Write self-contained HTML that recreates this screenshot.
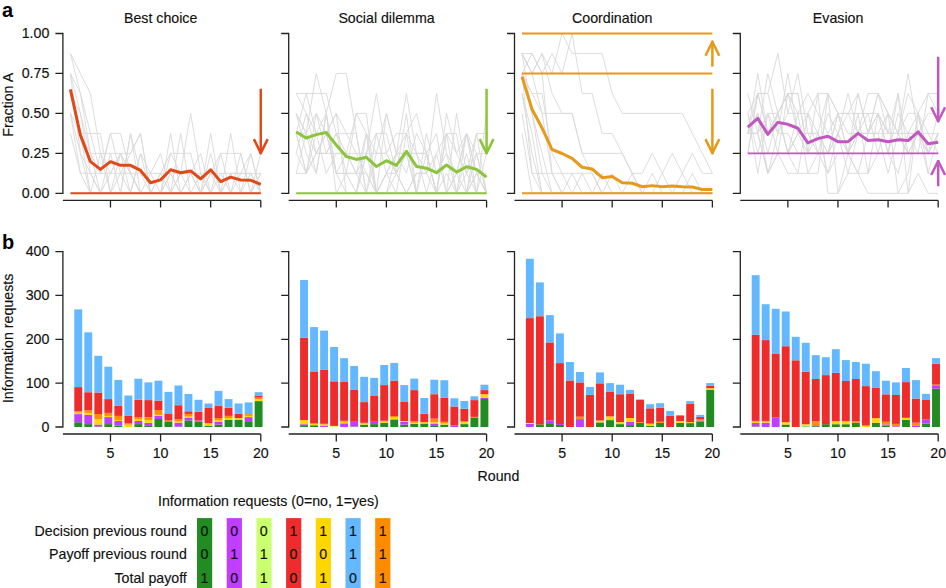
<!DOCTYPE html>
<html><head><meta charset="utf-8"><style>
html,body{margin:0;padding:0;background:#fff;width:946px;height:588px;overflow:hidden}
svg{display:block}
.t{font-family:"Liberation Sans",sans-serif;font-size:14.2px;fill:#111;stroke:#111;stroke-width:0.15px}
.lab{font-family:"Liberation Sans",sans-serif;font-size:20px;font-weight:bold;fill:#000}
.ax{fill:none;stroke:#222;stroke-width:1.3}
.g{fill:none;stroke:#d9d9d9;stroke-width:0.9}
</style></head><body>
<svg width="946" height="588" viewBox="0 0 946 588">
<text x="160.7" y="22.5" text-anchor="middle" class="t">Best choice</text>
<polyline points="70.4,53.47 80.42,73.45 90.44,93.43 100.46,153.35 110.48,173.33 120.5,153.35 130.52,173.33 140.54,193.3 150.56,173.33 160.58,153.35 170.6,193.3 180.62,173.33 190.64,113.4 200.66,173.33 210.68,193.3 220.7,173.33 230.72,193.3 240.74,173.33 250.76,173.33 260.78,193.3" class="g"/>
<polyline points="70.4,73.45 80.42,113.4 90.44,153.35 100.46,173.33 110.48,173.33 120.5,173.33 130.52,173.33 140.54,173.33 150.56,173.33 160.58,173.33 170.6,173.33 180.62,173.33 190.64,173.33 200.66,173.33 210.68,173.33 220.7,173.33 230.72,173.33 240.74,173.33 250.76,173.33 260.78,173.33" class="g"/>
<polyline points="70.4,93.43 80.42,133.38 90.44,153.35 100.46,153.35 110.48,153.35 120.5,153.35 130.52,173.33 140.54,193.3 150.56,193.3 160.58,193.3 170.6,153.35 180.62,153.35 190.64,153.35 200.66,193.3 210.68,173.33 220.7,153.35 230.72,153.35 240.74,153.35 250.76,193.3 260.78,173.33" class="g"/>
<polyline points="70.4,73.45 80.42,93.43 90.44,133.38 100.46,173.33 110.48,133.38 120.5,133.38 130.52,173.33 140.54,193.3 150.56,193.3 160.58,193.3 170.6,133.38 180.62,193.3 190.64,193.3 200.66,193.3 210.68,133.38 220.7,193.3 230.72,193.3 240.74,193.3 250.76,193.3 260.78,193.3" class="g"/>
<polyline points="70.4,113.4 80.42,133.38 90.44,133.38 100.46,133.38 110.48,193.3 120.5,193.3 130.52,133.38 140.54,193.3 150.56,193.3 160.58,193.3 170.6,193.3 180.62,133.38 190.64,193.3 200.66,193.3 210.68,193.3 220.7,193.3 230.72,133.38 240.74,193.3 250.76,193.3 260.78,173.33" class="g"/>
<polyline points="70.4,113.4 80.42,153.35 90.44,193.3 100.46,153.35 110.48,193.3 120.5,153.35 130.52,193.3 140.54,153.35 150.56,193.3 160.58,193.3 170.6,173.33 180.62,193.3 190.64,173.33 200.66,153.35 210.68,193.3 220.7,153.35 230.72,193.3 240.74,153.35 250.76,193.3 260.78,153.35" class="g"/>
<polyline points="70.4,133.38 80.42,173.33 90.44,173.33 100.46,193.3 110.48,153.35 120.5,193.3 130.52,133.38 140.54,173.33 150.56,193.3 160.58,173.33 170.6,193.3 180.62,173.33 190.64,193.3 200.66,193.3 210.68,153.35 220.7,193.3 230.72,173.33 240.74,193.3 250.76,153.35 260.78,193.3" class="g"/>
<polyline points="70.4,93.43 80.42,113.4 90.44,173.33 100.46,193.3 110.48,193.3 120.5,173.33 130.52,193.3 140.54,153.35 150.56,173.33 160.58,193.3 170.6,173.33 180.62,193.3 190.64,193.3 200.66,173.33 210.68,193.3 220.7,193.3 230.72,193.3 240.74,193.3 250.76,173.33 260.78,193.3" class="g"/>
<polyline points="70.4,73.45 80.42,153.35 90.44,173.33 100.46,173.33 110.48,133.38 120.5,173.33 130.52,153.35 140.54,133.38 150.56,193.3 160.58,173.33 170.6,153.35 180.62,173.33 190.64,173.33 200.66,193.3 210.68,173.33 220.7,193.3 230.72,173.33 240.74,173.33 250.76,153.35 260.78,193.3" class="g"/>
<polyline points="70.4,113.4 80.42,173.33 90.44,193.3 100.46,193.3 110.48,193.3 120.5,193.3 130.52,193.3 140.54,193.3 150.56,193.3 160.58,193.3 170.6,193.3 180.62,193.3 190.64,193.3 200.66,193.3 210.68,193.3 220.7,193.3 230.72,193.3 240.74,193.3 250.76,193.3 260.78,193.3" class="g"/>
<polyline points="70.4,53.47 80.42,93.43 90.44,153.35 100.46,193.3 110.48,173.33 120.5,153.35 130.52,153.35 140.54,133.38 150.56,193.3 160.58,193.3 170.6,193.3 180.62,193.3 190.64,173.33 200.66,193.3 210.68,193.3 220.7,193.3 230.72,193.3 240.74,193.3 250.76,193.3 260.78,193.3" class="g"/>
<polyline points="70.4,93.43 80.42,133.38 90.44,193.3 100.46,193.3 110.48,193.3 120.5,193.3 130.52,193.3 140.54,193.3 150.56,193.3 160.58,193.3 170.6,193.3 180.62,193.3 190.64,193.3 200.66,193.3 210.68,193.3 220.7,193.3 230.72,193.3 240.74,193.3 250.76,193.3 260.78,193.3" class="g"/>
<line x1="70.4" y1="193.3" x2="260.78" y2="193.3" stroke="#E24818" stroke-width="1.9"/>
<polyline points="70.4,89.43 80.42,135.13 90.44,161.66 100.46,169.33 110.48,161.66 120.5,165.34 130.52,165.34 140.54,170.45 150.56,182.75 160.58,179.88 170.6,169.81 180.62,172.69 190.64,170.93 200.66,178.92 210.68,169.81 220.7,181.63 230.72,177.16 240.74,180.04 250.76,180.36 260.78,184.35" fill="none" stroke="#E24818" stroke-width="3" stroke-linejoin="round"/>
<line x1="260.78" y1="88.79" x2="260.78" y2="154.15" stroke="#E24818" stroke-width="2.5"/>
<polyline points="253.88,139.15 260.78,153.15 267.68,139.15" fill="none" stroke="#E24818" stroke-width="2.5" stroke-linejoin="round"/>
<path d="M55.4,33.5H62.9V193.3H55.4M62.9,73.45h-7.5M62.9,113.4h-7.5M62.9,153.35h-7.5" class="ax"/>
<path d="M62.9,200.4H260.78M110.48,200.4v7.2M160.58,200.4v7.2M210.68,200.4v7.2M260.78,200.4v7.2" class="ax"/>
<text x="386.5" y="22.5" text-anchor="middle" class="t">Social dilemma</text>
<polyline points="296.2,93.43 306.22,93.43 316.24,93.43 326.26,93.43 336.28,133.38 346.3,153.35 356.32,113.4 366.34,113.4 376.36,193.3 386.38,113.4 396.4,153.35 406.42,133.38 416.44,113.4 426.46,153.35 436.48,193.3 446.5,173.33 456.52,193.3 466.54,153.35 476.56,193.3 486.58,153.35" class="g"/>
<polyline points="296.2,173.33 306.22,133.38 316.24,73.45 326.26,113.4 336.28,173.33 346.3,153.35 356.32,173.33 366.34,133.38 376.36,193.3 386.38,173.33 396.4,173.33 406.42,153.35 416.44,193.3 426.46,153.35 436.48,193.3 446.5,193.3 456.52,173.33 466.54,193.3 476.56,173.33 486.58,173.33" class="g"/>
<polyline points="296.2,133.38 306.22,133.38 316.24,173.33 326.26,113.4 336.28,73.45 346.3,73.45 356.32,133.38 366.34,193.3 376.36,193.3 386.38,173.33 396.4,193.3 406.42,133.38 416.44,193.3 426.46,193.3 436.48,193.3 446.5,193.3 456.52,193.3 466.54,193.3 476.56,153.35 486.58,153.35" class="g"/>
<polyline points="296.2,113.4 306.22,133.38 316.24,153.35 326.26,153.35 336.28,133.38 346.3,133.38 356.32,153.35 366.34,153.35 376.36,93.43 386.38,153.35 396.4,173.33 406.42,193.3 416.44,173.33 426.46,173.33 436.48,153.35 446.5,133.38 456.52,133.38 466.54,193.3 476.56,133.38 486.58,133.38" class="g"/>
<polyline points="296.2,133.38 306.22,93.43 316.24,133.38 326.26,133.38 336.28,113.4 346.3,133.38 356.32,133.38 366.34,193.3 376.36,153.35 386.38,113.4 396.4,153.35 406.42,93.43 416.44,153.35 426.46,153.35 436.48,193.3 446.5,193.3 456.52,193.3 466.54,133.38 476.56,173.33 486.58,193.3" class="g"/>
<polyline points="296.2,113.4 306.22,133.38 316.24,113.4 326.26,133.38 336.28,173.33 346.3,173.33 356.32,173.33 366.34,173.33 376.36,193.3 386.38,193.3 396.4,193.3 406.42,193.3 416.44,173.33 426.46,173.33 436.48,93.43 446.5,153.35 456.52,193.3 466.54,173.33 476.56,193.3 486.58,113.4" class="g"/>
<polyline points="296.2,133.38 306.22,173.33 316.24,113.4 326.26,153.35 336.28,133.38 346.3,173.33 356.32,173.33 366.34,193.3 376.36,133.38 386.38,133.38 396.4,173.33 406.42,153.35 416.44,153.35 426.46,173.33 436.48,193.3 446.5,113.4 456.52,153.35 466.54,133.38 476.56,153.35 486.58,193.3" class="g"/>
<polyline points="296.2,153.35 306.22,113.4 316.24,133.38 326.26,173.33 336.28,153.35 346.3,153.35 356.32,153.35 366.34,173.33 376.36,193.3 386.38,173.33 396.4,153.35 406.42,153.35 416.44,153.35 426.46,193.3 436.48,153.35 446.5,193.3 456.52,113.4 466.54,173.33 476.56,133.38 486.58,193.3" class="g"/>
<polyline points="296.2,133.38 306.22,173.33 316.24,153.35 326.26,133.38 336.28,173.33 346.3,193.3 356.32,193.3 366.34,133.38 376.36,153.35 386.38,153.35 396.4,133.38 406.42,133.38 416.44,153.35 426.46,153.35 436.48,193.3 446.5,133.38 456.52,193.3 466.54,193.3 476.56,193.3 486.58,193.3" class="g"/>
<polyline points="296.2,153.35 306.22,173.33 316.24,153.35 326.26,153.35 336.28,153.35 346.3,153.35 356.32,173.33 366.34,153.35 376.36,133.38 386.38,173.33 396.4,153.35 406.42,173.33 416.44,133.38 426.46,153.35 436.48,133.38 446.5,193.3 456.52,193.3 466.54,193.3 476.56,173.33 486.58,193.3" class="g"/>
<polyline points="296.2,113.4 306.22,153.35 316.24,173.33 326.26,113.4 336.28,193.3 346.3,173.33 356.32,113.4 366.34,133.38 376.36,193.3 386.38,193.3 396.4,153.35 406.42,153.35 416.44,193.3 426.46,193.3 436.48,193.3 446.5,193.3 456.52,173.33 466.54,133.38 476.56,193.3 486.58,193.3" class="g"/>
<polyline points="296.2,93.43 306.22,113.4 316.24,153.35 326.26,133.38 336.28,113.4 346.3,193.3 356.32,193.3 366.34,153.35 376.36,193.3 386.38,193.3 396.4,173.33 406.42,113.4 416.44,193.3 426.46,133.38 436.48,173.33 446.5,153.35 456.52,173.33 466.54,133.38 476.56,173.33 486.58,193.3" class="g"/>
<polyline points="296.2,173.33 306.22,173.33 316.24,133.38 326.26,113.4 336.28,173.33 346.3,173.33 356.32,193.3 366.34,153.35 376.36,153.35 386.38,153.35 396.4,173.33 406.42,193.3 416.44,193.3 426.46,193.3 436.48,193.3 446.5,133.38 456.52,153.35 466.54,173.33 476.56,153.35 486.58,193.3" class="g"/>
<line x1="296.2" y1="193.3" x2="486.58" y2="193.3" stroke="#8CC43C" stroke-width="1.9"/>
<polyline points="296.2,131.94 306.22,138.01 316.24,134.65 326.26,132.58 336.28,145.04 346.3,156.55 356.32,159.42 366.34,157.34 376.36,166.45 386.38,160.7 396.4,165.34 406.42,151.27 416.44,166.45 426.46,168.21 436.48,172.69 446.5,165.02 456.52,172.05 466.54,166.77 476.56,169.33 486.58,177.16" fill="none" stroke="#8CC43C" stroke-width="3" stroke-linejoin="round"/>
<line x1="486.58" y1="88.79" x2="486.58" y2="154.15" stroke="#8CC43C" stroke-width="2.5"/>
<polyline points="479.68,139.15 486.58,153.15 493.48,139.15" fill="none" stroke="#8CC43C" stroke-width="2.5" stroke-linejoin="round"/>
<path d="M281.2,33.5H288.7V193.3H281.2M288.7,73.45h-7.5M288.7,113.4h-7.5M288.7,153.35h-7.5" class="ax"/>
<path d="M288.7,200.4H486.58M336.28,200.4v7.2M386.38,200.4v7.2M436.48,200.4v7.2M486.58,200.4v7.2" class="ax"/>
<text x="612.3" y="22.5" text-anchor="middle" class="t">Coordination</text>
<polyline points="522,53.47 532.02,73.45 542.04,53.47 552.06,73.45 562.08,33.5 572.1,53.47 582.12,53.47 592.14,53.47 602.16,53.47 612.18,93.43 622.2,113.4 632.22,113.4 642.24,113.4 652.26,113.4 662.28,113.4 672.3,113.4 682.32,113.4 692.34,133.38 702.36,153.35 712.38,173.33" class="g"/>
<polyline points="522,73.45 532.02,53.47 542.04,73.45 552.06,53.47 562.08,73.45 572.1,33.5 582.12,93.43 592.14,93.43 602.16,133.38 612.18,133.38 622.2,153.35 632.22,173.33 642.24,173.33 652.26,153.35 662.28,173.33 672.3,153.35 682.32,173.33 692.34,153.35 702.36,173.33 712.38,173.33" class="g"/>
<polyline points="522,53.47 532.02,73.45 542.04,53.47 552.06,93.43 562.08,113.4 572.1,113.4 582.12,153.35 592.14,153.35 602.16,153.35 612.18,153.35 622.2,153.35 632.22,173.33 642.24,193.3 652.26,173.33 662.28,193.3 672.3,193.3 682.32,173.33 692.34,193.3 702.36,193.3 712.38,193.3" class="g"/>
<polyline points="522,73.45 532.02,93.43 542.04,113.4 552.06,113.4 562.08,113.4 572.1,113.4 582.12,153.35 592.14,173.33 602.16,193.3 612.18,193.3 622.2,193.3 632.22,193.3 642.24,193.3 652.26,193.3 662.28,193.3 672.3,193.3 682.32,193.3 692.34,193.3 702.36,193.3 712.38,193.3" class="g"/>
<polyline points="522,53.47 532.02,113.4 542.04,173.33 552.06,173.33 562.08,173.33 572.1,173.33 582.12,173.33 592.14,173.33 602.16,193.3 612.18,193.3 622.2,193.3 632.22,193.3 642.24,193.3 652.26,193.3 662.28,193.3 672.3,193.3 682.32,193.3 692.34,193.3 702.36,193.3 712.38,193.3" class="g"/>
<polyline points="522,73.45 532.02,113.4 542.04,153.35 552.06,193.3 562.08,193.3 572.1,193.3 582.12,193.3 592.14,193.3 602.16,193.3 612.18,193.3 622.2,193.3 632.22,193.3 642.24,193.3 652.26,193.3 662.28,193.3 672.3,193.3 682.32,193.3 692.34,193.3 702.36,193.3 712.38,193.3" class="g"/>
<polyline points="522,93.43 532.02,133.38 542.04,193.3 552.06,193.3 562.08,193.3 572.1,193.3 582.12,193.3 592.14,193.3 602.16,193.3 612.18,193.3 622.2,193.3 632.22,193.3 642.24,193.3 652.26,193.3 662.28,193.3 672.3,193.3 682.32,193.3 692.34,193.3 702.36,193.3 712.38,193.3" class="g"/>
<polyline points="522,73.45 532.02,173.33 542.04,173.33 552.06,193.3 562.08,193.3 572.1,193.3 582.12,193.3 592.14,193.3 602.16,193.3 612.18,173.33 622.2,193.3 632.22,193.3 642.24,193.3 652.26,193.3 662.28,193.3 672.3,193.3 682.32,193.3 692.34,193.3 702.36,193.3 712.38,193.3" class="g"/>
<polyline points="522,53.47 532.02,73.45 542.04,113.4 552.06,173.33 562.08,193.3 572.1,173.33 582.12,193.3 592.14,193.3 602.16,173.33 612.18,193.3 622.2,193.3 632.22,193.3 642.24,193.3 652.26,193.3 662.28,193.3 672.3,193.3 682.32,193.3 692.34,193.3 702.36,193.3 712.38,193.3" class="g"/>
<polyline points="522,93.43 532.02,153.35 542.04,193.3 552.06,193.3 562.08,193.3 572.1,193.3 582.12,193.3 592.14,193.3 602.16,193.3 612.18,193.3 622.2,193.3 632.22,173.33 642.24,193.3 652.26,193.3 662.28,173.33 672.3,193.3 682.32,193.3 692.34,173.33 702.36,193.3 712.38,193.3" class="g"/>
<polyline points="522,113.4 532.02,173.33 542.04,193.3 552.06,193.3 562.08,193.3 572.1,193.3 582.12,193.3 592.14,193.3 602.16,193.3 612.18,193.3 622.2,193.3 632.22,193.3 642.24,193.3 652.26,193.3 662.28,193.3 672.3,193.3 682.32,193.3 692.34,193.3 702.36,193.3 712.38,193.3" class="g"/>
<polyline points="522,73.45 532.02,93.43 542.04,93.43 552.06,153.35 562.08,173.33 572.1,193.3 582.12,173.33 592.14,193.3 602.16,193.3 612.18,193.3 622.2,193.3 632.22,193.3 642.24,193.3 652.26,193.3 662.28,193.3 672.3,193.3 682.32,193.3 692.34,193.3 702.36,193.3 712.38,193.3" class="g"/>
<polyline points="522,53.47 532.02,53.47 542.04,73.45 552.06,173.33 562.08,193.3 572.1,193.3 582.12,193.3 592.14,193.3 602.16,193.3 612.18,193.3 622.2,193.3 632.22,193.3 642.24,193.3 652.26,193.3 662.28,193.3 672.3,193.3 682.32,193.3 692.34,193.3 702.36,193.3 712.38,193.3" class="g"/>
<polyline points="522,133.38 532.02,193.3 542.04,193.3 552.06,193.3 562.08,193.3 572.1,193.3 582.12,193.3 592.14,193.3 602.16,193.3 612.18,193.3 622.2,193.3 632.22,193.3 642.24,193.3 652.26,193.3 662.28,193.3 672.3,193.3 682.32,193.3 692.34,193.3 702.36,193.3 712.38,193.3" class="g"/>
<line x1="522" y1="33.5" x2="712.38" y2="33.5" stroke="#E69A1A" stroke-width="1.9"/>
<line x1="522" y1="73.45" x2="712.38" y2="73.45" stroke="#E69A1A" stroke-width="1.9"/>
<line x1="522" y1="193.3" x2="712.38" y2="193.3" stroke="#E69A1A" stroke-width="1.9"/>
<polyline points="522,76.65 532.02,109.25 542.04,127.94 552.06,149.51 562.08,153.51 572.1,158.46 582.12,167.25 592.14,169.01 602.16,177.64 612.18,176.52 622.2,182.75 632.22,183.23 642.24,186.75 652.26,185.63 662.28,186.75 672.3,185.95 682.32,186.75 692.34,187.07 702.36,189.46 712.38,189.46" fill="none" stroke="#E69A1A" stroke-width="3" stroke-linejoin="round"/>
<line x1="712.38" y1="66.58" x2="712.38" y2="40.69" stroke="#E69A1A" stroke-width="2.5"/>
<polyline points="705.48,55.69 712.38,41.69 719.28,55.69" fill="none" stroke="#E69A1A" stroke-width="2.5" stroke-linejoin="round"/>
<line x1="712.38" y1="88.79" x2="712.38" y2="154.15" stroke="#E69A1A" stroke-width="2.5"/>
<polyline points="705.48,139.15 712.38,153.15 719.28,139.15" fill="none" stroke="#E69A1A" stroke-width="2.5" stroke-linejoin="round"/>
<path d="M507,33.5H514.5V193.3H507M514.5,73.45h-7.5M514.5,113.4h-7.5M514.5,153.35h-7.5" class="ax"/>
<path d="M514.5,200.4H712.38M562.08,200.4v7.2M612.18,200.4v7.2M662.28,200.4v7.2M712.38,200.4v7.2" class="ax"/>
<text x="838.1" y="22.5" text-anchor="middle" class="t">Evasion</text>
<polyline points="747.8,153.35 757.82,93.43 767.84,93.43 777.86,53.47 787.88,113.4 797.9,113.4 807.92,113.4 817.94,133.38 827.96,153.35 837.98,153.35 848,153.35 858.02,133.38 868.04,133.38 878.06,133.38 888.08,133.38 898.1,133.38 908.12,133.38 918.14,113.4 928.16,153.35 938.18,113.4" class="g"/>
<polyline points="747.8,113.4 757.82,93.43 767.84,93.43 777.86,133.38 787.88,133.38 797.9,153.35 807.92,153.35 817.94,133.38 827.96,173.33 837.98,133.38 848,153.35 858.02,93.43 868.04,133.38 878.06,113.4 888.08,133.38 898.1,133.38 908.12,113.4 918.14,113.4 928.16,173.33 938.18,173.33" class="g"/>
<polyline points="747.8,133.38 757.82,133.38 767.84,113.4 777.86,153.35 787.88,93.43 797.9,93.43 807.92,153.35 817.94,153.35 827.96,153.35 837.98,113.4 848,113.4 858.02,113.4 868.04,173.33 878.06,153.35 888.08,113.4 898.1,133.38 908.12,153.35 918.14,133.38 928.16,153.35 938.18,133.38" class="g"/>
<polyline points="747.8,133.38 757.82,113.4 767.84,153.35 777.86,113.4 787.88,93.43 797.9,93.43 807.92,153.35 817.94,93.43 827.96,93.43 837.98,113.4 848,153.35 858.02,113.4 868.04,113.4 878.06,113.4 888.08,153.35 898.1,93.43 908.12,153.35 918.14,133.38 928.16,113.4 938.18,113.4" class="g"/>
<polyline points="747.8,133.38 757.82,93.43 767.84,133.38 777.86,113.4 787.88,153.35 797.9,133.38 807.92,113.4 817.94,153.35 827.96,153.35 837.98,113.4 848,133.38 858.02,133.38 868.04,93.43 878.06,93.43 888.08,133.38 898.1,93.43 908.12,193.3 918.14,113.4 928.16,153.35 938.18,153.35" class="g"/>
<polyline points="747.8,113.4 757.82,153.35 767.84,113.4 777.86,113.4 787.88,93.43 797.9,113.4 807.92,173.33 817.94,153.35 827.96,113.4 837.98,133.38 848,93.43 858.02,133.38 868.04,133.38 878.06,113.4 888.08,133.38 898.1,133.38 908.12,73.45 918.14,133.38 928.16,173.33 938.18,133.38" class="g"/>
<polyline points="747.8,153.35 757.82,93.43 767.84,133.38 777.86,113.4 787.88,153.35 797.9,113.4 807.92,93.43 817.94,113.4 827.96,133.38 837.98,113.4 848,153.35 858.02,133.38 868.04,133.38 878.06,133.38 888.08,173.33 898.1,133.38 908.12,93.43 918.14,113.4 928.16,93.43 938.18,93.43" class="g"/>
<polyline points="747.8,133.38 757.82,133.38 767.84,173.33 777.86,153.35 787.88,153.35 797.9,173.33 807.92,113.4 817.94,93.43 827.96,193.3 837.98,193.3 848,173.33 858.02,133.38 868.04,133.38 878.06,93.43 888.08,113.4 898.1,133.38 908.12,153.35 918.14,153.35 928.16,153.35 938.18,133.38" class="g"/>
<polyline points="747.8,133.38 757.82,73.45 767.84,133.38 777.86,113.4 787.88,153.35 797.9,133.38 807.92,133.38 817.94,153.35 827.96,173.33 837.98,153.35 848,153.35 858.02,173.33 868.04,133.38 878.06,133.38 888.08,113.4 898.1,133.38 908.12,133.38 918.14,133.38 928.16,133.38 938.18,153.35" class="g"/>
<polyline points="747.8,133.38 757.82,133.38 767.84,73.45 777.86,113.4 787.88,93.43 797.9,133.38 807.92,153.35 817.94,153.35 827.96,153.35 837.98,133.38 848,113.4 858.02,133.38 868.04,113.4 878.06,153.35 888.08,153.35 898.1,173.33 908.12,133.38 918.14,133.38 928.16,153.35 938.18,133.38" class="g"/>
<polyline points="747.8,113.4 757.82,173.33 767.84,113.4 777.86,133.38 787.88,73.45 797.9,133.38 807.92,133.38 817.94,133.38 827.96,153.35 837.98,133.38 848,173.33 858.02,173.33 868.04,173.33 878.06,113.4 888.08,153.35 898.1,113.4 908.12,133.38 918.14,153.35 928.16,93.43 938.18,113.4" class="g"/>
<polyline points="747.8,133.38 757.82,113.4 767.84,173.33 777.86,133.38 787.88,113.4 797.9,73.45 807.92,133.38 817.94,133.38 827.96,93.43 837.98,113.4 848,113.4 858.02,93.43 868.04,133.38 878.06,93.43 888.08,113.4 898.1,193.3 908.12,173.33 918.14,113.4 928.16,133.38 938.18,133.38" class="g"/>
<polyline points="747.8,93.43 757.82,133.38 767.84,173.33 777.86,153.35 787.88,173.33 797.9,173.33 807.92,173.33 817.94,173.33 827.96,93.43 837.98,193.3 848,153.35 858.02,173.33 868.04,193.3 878.06,193.3 888.08,193.3 898.1,193.3 908.12,193.3 918.14,173.33 928.16,193.3 938.18,193.3" class="g"/>
<line x1="747.8" y1="153.35" x2="938.18" y2="153.35" stroke="#C257C2" stroke-width="1.9"/>
<polyline points="747.8,127.14 757.82,118.35 767.84,134.33 777.86,122.35 787.88,124.27 797.9,128.26 807.92,142.96 817.94,138.65 827.96,136.25 837.98,141.68 848,141.68 858.02,133.38 868.04,140.57 878.06,139.77 888.08,141.68 898.1,139.77 908.12,140.57 918.14,131.94 928.16,143.76 938.18,142.16" fill="none" stroke="#C257C2" stroke-width="3" stroke-linejoin="round"/>
<line x1="938.18" y1="56.83" x2="938.18" y2="122.19" stroke="#C257C2" stroke-width="2.5"/>
<polyline points="931.28,107.19 938.18,121.19 945.08,107.19" fill="none" stroke="#C257C2" stroke-width="2.5" stroke-linejoin="round"/>
<line x1="938.18" y1="186.27" x2="938.18" y2="160.06" stroke="#C257C2" stroke-width="2.5"/>
<polyline points="931.28,175.06 938.18,161.06 945.08,175.06" fill="none" stroke="#C257C2" stroke-width="2.5" stroke-linejoin="round"/>
<path d="M732.8,33.5H740.3V193.3H732.8M740.3,73.45h-7.5M740.3,113.4h-7.5M740.3,153.35h-7.5" class="ax"/>
<path d="M740.3,200.4H938.18M787.88,200.4v7.2M837.98,200.4v7.2M888.08,200.4v7.2M938.18,200.4v7.2" class="ax"/>
<text x="49.3" y="38.3" text-anchor="end" class="t">1.00</text>
<text x="49.3" y="78.25" text-anchor="end" class="t">0.75</text>
<text x="49.3" y="118.2" text-anchor="end" class="t">0.50</text>
<text x="49.3" y="158.15" text-anchor="end" class="t">0.25</text>
<text x="49.3" y="198.1" text-anchor="end" class="t">0.00</text>
<text transform="translate(13.4,104.8) rotate(-90)" text-anchor="middle" class="t">Fraction A</text>
<text x="2" y="17" class="lab">a</text>
<rect x="74.3" y="422.2" width="7.9" height="4.8" fill="#228B22"/>
<rect x="74.3" y="414.1" width="7.9" height="8.1" fill="#BF3EFF"/>
<rect x="74.3" y="412.5" width="7.9" height="1.6" fill="#FFD700"/>
<rect x="74.3" y="411.3" width="7.9" height="1.2" fill="#FF8C00"/>
<rect x="74.3" y="387.1" width="7.9" height="24.2" fill="#EE2C2C"/>
<rect x="74.3" y="309.4" width="7.9" height="77.7" fill="#63B8FF"/>
<rect x="84.32" y="424.1" width="7.9" height="2.9" fill="#228B22"/>
<rect x="84.32" y="414.9" width="7.9" height="9.2" fill="#BF3EFF"/>
<rect x="84.32" y="412.9" width="7.9" height="2" fill="#FFD700"/>
<rect x="84.32" y="410.3" width="7.9" height="2.6" fill="#FF8C00"/>
<rect x="84.32" y="392.2" width="7.9" height="18.1" fill="#EE2C2C"/>
<rect x="84.32" y="332.3" width="7.9" height="59.9" fill="#63B8FF"/>
<rect x="94.34" y="426.5" width="7.9" height="0.5" fill="#228B22"/>
<rect x="94.34" y="424.5" width="7.9" height="2" fill="#BF3EFF"/>
<rect x="94.34" y="419" width="7.9" height="5.5" fill="#FFD700"/>
<rect x="94.34" y="414.1" width="7.9" height="4.9" fill="#FF8C00"/>
<rect x="94.34" y="392.5" width="7.9" height="21.6" fill="#EE2C2C"/>
<rect x="94.34" y="355.8" width="7.9" height="36.7" fill="#63B8FF"/>
<rect x="104.36" y="424.1" width="7.9" height="2.9" fill="#228B22"/>
<rect x="104.36" y="417.1" width="7.9" height="7" fill="#BF3EFF"/>
<rect x="104.36" y="415.9" width="7.9" height="1.2" fill="#FFD700"/>
<rect x="104.36" y="412.9" width="7.9" height="3" fill="#FF8C00"/>
<rect x="104.36" y="399.1" width="7.9" height="13.8" fill="#EE2C2C"/>
<rect x="104.36" y="366.7" width="7.9" height="32.4" fill="#63B8FF"/>
<rect x="114.38" y="425.6" width="7.9" height="1.4" fill="#228B22"/>
<rect x="114.38" y="421" width="7.9" height="4.6" fill="#BF3EFF"/>
<rect x="114.38" y="420" width="7.9" height="1" fill="#FFD700"/>
<rect x="114.38" y="415.9" width="7.9" height="4.1" fill="#FF8C00"/>
<rect x="114.38" y="405.9" width="7.9" height="10" fill="#EE2C2C"/>
<rect x="114.38" y="379.9" width="7.9" height="26" fill="#63B8FF"/>
<rect x="124.4" y="424.6" width="7.9" height="2.4" fill="#FFD700"/>
<rect x="124.4" y="423.1" width="7.9" height="1.5" fill="#FF8C00"/>
<rect x="124.4" y="415.9" width="7.9" height="7.2" fill="#EE2C2C"/>
<rect x="124.4" y="395.5" width="7.9" height="20.4" fill="#63B8FF"/>
<rect x="134.42" y="424.1" width="7.9" height="2.9" fill="#228B22"/>
<rect x="134.42" y="421" width="7.9" height="3.1" fill="#BF3EFF"/>
<rect x="134.42" y="419.5" width="7.9" height="1.5" fill="#FFD700"/>
<rect x="134.42" y="417" width="7.9" height="2.5" fill="#FF8C00"/>
<rect x="134.42" y="399.6" width="7.9" height="17.4" fill="#EE2C2C"/>
<rect x="134.42" y="378.7" width="7.9" height="20.9" fill="#63B8FF"/>
<rect x="144.44" y="425.9" width="7.9" height="1.1" fill="#228B22"/>
<rect x="144.44" y="422.9" width="7.9" height="3" fill="#BF3EFF"/>
<rect x="144.44" y="420" width="7.9" height="2.9" fill="#FFD700"/>
<rect x="144.44" y="417.1" width="7.9" height="2.9" fill="#FF8C00"/>
<rect x="144.44" y="400.1" width="7.9" height="17" fill="#EE2C2C"/>
<rect x="144.44" y="382.4" width="7.9" height="17.7" fill="#63B8FF"/>
<rect x="154.46" y="419" width="7.9" height="8" fill="#228B22"/>
<rect x="154.46" y="415.9" width="7.9" height="3.1" fill="#BF3EFF"/>
<rect x="154.46" y="414.9" width="7.9" height="1" fill="#FFD700"/>
<rect x="154.46" y="410" width="7.9" height="4.9" fill="#FF8C00"/>
<rect x="154.46" y="400.6" width="7.9" height="9.4" fill="#EE2C2C"/>
<rect x="154.46" y="380.7" width="7.9" height="19.9" fill="#63B8FF"/>
<rect x="164.48" y="422" width="7.9" height="5" fill="#228B22"/>
<rect x="164.48" y="420.5" width="7.9" height="1.5" fill="#FF8C00"/>
<rect x="164.48" y="413.4" width="7.9" height="7.1" fill="#EE2C2C"/>
<rect x="164.48" y="391.9" width="7.9" height="21.5" fill="#63B8FF"/>
<rect x="174.5" y="426.7" width="7.9" height="0.3" fill="#228B22"/>
<rect x="174.5" y="422.6" width="7.9" height="4.1" fill="#BF3EFF"/>
<rect x="174.5" y="421.5" width="7.9" height="1.1" fill="#FFD700"/>
<rect x="174.5" y="419" width="7.9" height="2.5" fill="#FF8C00"/>
<rect x="174.5" y="405.2" width="7.9" height="13.8" fill="#EE2C2C"/>
<rect x="174.5" y="385.5" width="7.9" height="19.7" fill="#63B8FF"/>
<rect x="184.52" y="420.5" width="7.9" height="6.5" fill="#228B22"/>
<rect x="184.52" y="418" width="7.9" height="2.5" fill="#BF3EFF"/>
<rect x="184.52" y="416.4" width="7.9" height="1.6" fill="#FFD700"/>
<rect x="184.52" y="413.9" width="7.9" height="2.5" fill="#FF8C00"/>
<rect x="184.52" y="411.3" width="7.9" height="2.6" fill="#EE2C2C"/>
<rect x="184.52" y="394" width="7.9" height="17.3" fill="#63B8FF"/>
<rect x="194.54" y="421.5" width="7.9" height="5.5" fill="#228B22"/>
<rect x="194.54" y="420.5" width="7.9" height="1" fill="#BF3EFF"/>
<rect x="194.54" y="411.8" width="7.9" height="8.7" fill="#EE2C2C"/>
<rect x="194.54" y="399.8" width="7.9" height="12" fill="#63B8FF"/>
<rect x="204.56" y="425.6" width="7.9" height="1.4" fill="#228B22"/>
<rect x="204.56" y="423.6" width="7.9" height="2" fill="#FFD700"/>
<rect x="204.56" y="423" width="7.9" height="0.6" fill="#FF8C00"/>
<rect x="204.56" y="408" width="7.9" height="15" fill="#EE2C2C"/>
<rect x="204.56" y="403.5" width="7.9" height="4.5" fill="#63B8FF"/>
<rect x="214.58" y="424.6" width="7.9" height="2.4" fill="#228B22"/>
<rect x="214.58" y="421.5" width="7.9" height="3.1" fill="#BF3EFF"/>
<rect x="214.58" y="420" width="7.9" height="1.5" fill="#FFD700"/>
<rect x="214.58" y="418" width="7.9" height="2" fill="#FF8C00"/>
<rect x="214.58" y="405.9" width="7.9" height="12.1" fill="#EE2C2C"/>
<rect x="214.58" y="390.9" width="7.9" height="15" fill="#63B8FF"/>
<rect x="224.6" y="420" width="7.9" height="7" fill="#228B22"/>
<rect x="224.6" y="418" width="7.9" height="2" fill="#FFD700"/>
<rect x="224.6" y="415.9" width="7.9" height="2.1" fill="#FF8C00"/>
<rect x="224.6" y="407.8" width="7.9" height="8.1" fill="#EE2C2C"/>
<rect x="224.6" y="399.1" width="7.9" height="8.7" fill="#63B8FF"/>
<rect x="234.62" y="420" width="7.9" height="7" fill="#228B22"/>
<rect x="234.62" y="418" width="7.9" height="2" fill="#FFD700"/>
<rect x="234.62" y="413.9" width="7.9" height="4.1" fill="#EE2C2C"/>
<rect x="234.62" y="403.5" width="7.9" height="10.4" fill="#63B8FF"/>
<rect x="244.64" y="422" width="7.9" height="5" fill="#228B22"/>
<rect x="244.64" y="417.1" width="7.9" height="4.9" fill="#BF3EFF"/>
<rect x="244.64" y="415.9" width="7.9" height="1.2" fill="#FFD700"/>
<rect x="244.64" y="414.1" width="7.9" height="1.8" fill="#FF8C00"/>
<rect x="244.64" y="402.4" width="7.9" height="11.7" fill="#63B8FF"/>
<rect x="254.66" y="401.1" width="7.9" height="25.9" fill="#228B22"/>
<rect x="254.66" y="399.1" width="7.9" height="2" fill="#FFD700"/>
<rect x="254.66" y="397.6" width="7.9" height="1.5" fill="#FF8C00"/>
<rect x="254.66" y="395.5" width="7.9" height="2.1" fill="#EE2C2C"/>
<rect x="254.66" y="392.2" width="7.9" height="3.3" fill="#63B8FF"/>
<path d="M55.4,251.6H62.9V427H55.4M62.9,383.15h-7.5M62.9,339.3h-7.5M62.9,295.45h-7.5" class="ax"/>
<text x="110.48" y="457.8" text-anchor="middle" class="t">5</text>
<text x="160.58" y="457.8" text-anchor="middle" class="t">10</text>
<text x="210.68" y="457.8" text-anchor="middle" class="t">15</text>
<text x="260.78" y="457.8" text-anchor="middle" class="t">20</text>
<path d="M62.9,434.0H260.78M110.48,434.0v7.4M160.58,434.0v7.4M210.68,434.0v7.4M260.78,434.0v7.4" class="ax"/>
<rect x="300.1" y="425.2" width="7.9" height="1.8" fill="#228B22"/>
<rect x="300.1" y="424.2" width="7.9" height="1" fill="#BF3EFF"/>
<rect x="300.1" y="420" width="7.9" height="4.2" fill="#FFD700"/>
<rect x="300.1" y="337.6" width="7.9" height="82.4" fill="#EE2C2C"/>
<rect x="300.1" y="280" width="7.9" height="57.6" fill="#63B8FF"/>
<rect x="310.12" y="425.5" width="7.9" height="1.5" fill="#228B22"/>
<rect x="310.12" y="425" width="7.9" height="0.5" fill="#BF3EFF"/>
<rect x="310.12" y="424" width="7.9" height="1" fill="#FFD700"/>
<rect x="310.12" y="423.3" width="7.9" height="0.7" fill="#FF8C00"/>
<rect x="310.12" y="371.4" width="7.9" height="51.9" fill="#EE2C2C"/>
<rect x="310.12" y="327.1" width="7.9" height="44.3" fill="#63B8FF"/>
<rect x="320.14" y="426" width="7.9" height="1" fill="#BF3EFF"/>
<rect x="320.14" y="424.5" width="7.9" height="1.5" fill="#FFD700"/>
<rect x="320.14" y="423.8" width="7.9" height="0.7" fill="#FF8C00"/>
<rect x="320.14" y="369.9" width="7.9" height="53.9" fill="#EE2C2C"/>
<rect x="320.14" y="330.6" width="7.9" height="39.3" fill="#63B8FF"/>
<rect x="330.16" y="425.9" width="7.9" height="1.1" fill="#CAFF70"/>
<rect x="330.16" y="381.3" width="7.9" height="44.6" fill="#EE2C2C"/>
<rect x="330.16" y="347" width="7.9" height="34.3" fill="#63B8FF"/>
<rect x="340.18" y="423.3" width="7.9" height="3.7" fill="#BF3EFF"/>
<rect x="340.18" y="421.8" width="7.9" height="1.5" fill="#FFD700"/>
<rect x="340.18" y="420.8" width="7.9" height="1" fill="#FF8C00"/>
<rect x="340.18" y="382" width="7.9" height="38.8" fill="#EE2C2C"/>
<rect x="340.18" y="358.2" width="7.9" height="23.8" fill="#63B8FF"/>
<rect x="350.2" y="426.5" width="7.9" height="0.5" fill="#228B22"/>
<rect x="350.2" y="421.8" width="7.9" height="4.7" fill="#BF3EFF"/>
<rect x="350.2" y="389.5" width="7.9" height="32.3" fill="#EE2C2C"/>
<rect x="350.2" y="366" width="7.9" height="23.5" fill="#63B8FF"/>
<rect x="360.22" y="424.6" width="7.9" height="2.4" fill="#228B22"/>
<rect x="360.22" y="423.6" width="7.9" height="1" fill="#FFD700"/>
<rect x="360.22" y="422.8" width="7.9" height="0.8" fill="#FF8C00"/>
<rect x="360.22" y="402.1" width="7.9" height="20.7" fill="#EE2C2C"/>
<rect x="360.22" y="376.8" width="7.9" height="25.3" fill="#63B8FF"/>
<rect x="370.24" y="424.1" width="7.9" height="2.9" fill="#228B22"/>
<rect x="370.24" y="421.8" width="7.9" height="2.3" fill="#BF3EFF"/>
<rect x="370.24" y="396" width="7.9" height="25.8" fill="#EE2C2C"/>
<rect x="370.24" y="377.9" width="7.9" height="18.1" fill="#63B8FF"/>
<rect x="380.26" y="422.8" width="7.9" height="4.2" fill="#228B22"/>
<rect x="380.26" y="421.7" width="7.9" height="1.1" fill="#FFD700"/>
<rect x="380.26" y="420.7" width="7.9" height="1" fill="#FF8C00"/>
<rect x="380.26" y="385.1" width="7.9" height="35.6" fill="#EE2C2C"/>
<rect x="380.26" y="365" width="7.9" height="20.1" fill="#63B8FF"/>
<rect x="390.28" y="419.4" width="7.9" height="7.6" fill="#228B22"/>
<rect x="390.28" y="417.3" width="7.9" height="2.1" fill="#FFD700"/>
<rect x="390.28" y="416" width="7.9" height="1.3" fill="#FF8C00"/>
<rect x="390.28" y="380.6" width="7.9" height="35.4" fill="#EE2C2C"/>
<rect x="390.28" y="362.9" width="7.9" height="17.7" fill="#63B8FF"/>
<rect x="400.3" y="424.6" width="7.9" height="2.4" fill="#228B22"/>
<rect x="400.3" y="421.8" width="7.9" height="2.8" fill="#BF3EFF"/>
<rect x="400.3" y="421" width="7.9" height="0.8" fill="#FFD700"/>
<rect x="400.3" y="402" width="7.9" height="19" fill="#EE2C2C"/>
<rect x="400.3" y="385.1" width="7.9" height="16.9" fill="#63B8FF"/>
<rect x="410.32" y="423.9" width="7.9" height="3.1" fill="#228B22"/>
<rect x="410.32" y="422.8" width="7.9" height="1.1" fill="#FFD700"/>
<rect x="410.32" y="421.4" width="7.9" height="1.4" fill="#FF8C00"/>
<rect x="410.32" y="390.1" width="7.9" height="31.3" fill="#EE2C2C"/>
<rect x="410.32" y="378.6" width="7.9" height="11.5" fill="#63B8FF"/>
<rect x="420.34" y="423.5" width="7.9" height="3.5" fill="#228B22"/>
<rect x="420.34" y="422.1" width="7.9" height="1.4" fill="#FFD700"/>
<rect x="420.34" y="413.7" width="7.9" height="8.4" fill="#EE2C2C"/>
<rect x="420.34" y="398" width="7.9" height="15.7" fill="#63B8FF"/>
<rect x="430.36" y="426" width="7.9" height="1" fill="#228B22"/>
<rect x="430.36" y="423.5" width="7.9" height="2.5" fill="#BF3EFF"/>
<rect x="430.36" y="422.2" width="7.9" height="1.3" fill="#FFD700"/>
<rect x="430.36" y="418.7" width="7.9" height="3.5" fill="#FF8C00"/>
<rect x="430.36" y="394.2" width="7.9" height="24.5" fill="#EE2C2C"/>
<rect x="430.36" y="379.7" width="7.9" height="14.5" fill="#63B8FF"/>
<rect x="440.38" y="424.6" width="7.9" height="2.4" fill="#228B22"/>
<rect x="440.38" y="423.5" width="7.9" height="1.1" fill="#FFD700"/>
<rect x="440.38" y="421.8" width="7.9" height="1.7" fill="#FF8C00"/>
<rect x="440.38" y="397.9" width="7.9" height="23.9" fill="#EE2C2C"/>
<rect x="440.38" y="380.2" width="7.9" height="17.7" fill="#63B8FF"/>
<rect x="450.4" y="425.5" width="7.9" height="1.5" fill="#BF3EFF"/>
<rect x="450.4" y="406.5" width="7.9" height="19" fill="#EE2C2C"/>
<rect x="450.4" y="398.3" width="7.9" height="8.2" fill="#63B8FF"/>
<rect x="460.42" y="424.1" width="7.9" height="2.9" fill="#228B22"/>
<rect x="460.42" y="422.1" width="7.9" height="2" fill="#FFD700"/>
<rect x="460.42" y="421.4" width="7.9" height="0.7" fill="#FF8C00"/>
<rect x="460.42" y="408.8" width="7.9" height="12.6" fill="#EE2C2C"/>
<rect x="460.42" y="401" width="7.9" height="7.8" fill="#63B8FF"/>
<rect x="470.44" y="418" width="7.9" height="9" fill="#228B22"/>
<rect x="470.44" y="416.9" width="7.9" height="1.1" fill="#FF8C00"/>
<rect x="470.44" y="400.1" width="7.9" height="16.8" fill="#EE2C2C"/>
<rect x="470.44" y="396.3" width="7.9" height="3.8" fill="#63B8FF"/>
<rect x="480.46" y="399" width="7.9" height="28" fill="#228B22"/>
<rect x="480.46" y="397.6" width="7.9" height="1.4" fill="#BF3EFF"/>
<rect x="480.46" y="394.2" width="7.9" height="3.4" fill="#FFD700"/>
<rect x="480.46" y="390.1" width="7.9" height="4.1" fill="#EE2C2C"/>
<rect x="480.46" y="384.7" width="7.9" height="5.4" fill="#63B8FF"/>
<path d="M281.2,251.6H288.7V427H281.2M288.7,383.15h-7.5M288.7,339.3h-7.5M288.7,295.45h-7.5" class="ax"/>
<text x="336.28" y="457.8" text-anchor="middle" class="t">5</text>
<text x="386.38" y="457.8" text-anchor="middle" class="t">10</text>
<text x="436.48" y="457.8" text-anchor="middle" class="t">15</text>
<text x="486.58" y="457.8" text-anchor="middle" class="t">20</text>
<path d="M288.7,434.0H486.58M336.28,434.0v7.4M386.38,434.0v7.4M436.48,434.0v7.4M486.58,434.0v7.4" class="ax"/>
<rect x="525.9" y="423.7" width="7.9" height="3.3" fill="#BF3EFF"/>
<rect x="525.9" y="423" width="7.9" height="0.7" fill="#CAFF70"/>
<rect x="525.9" y="318.1" width="7.9" height="104.9" fill="#EE2C2C"/>
<rect x="525.9" y="258.8" width="7.9" height="59.3" fill="#63B8FF"/>
<rect x="535.92" y="424.4" width="7.9" height="2.6" fill="#228B22"/>
<rect x="535.92" y="316.2" width="7.9" height="108.2" fill="#EE2C2C"/>
<rect x="535.92" y="282.4" width="7.9" height="33.8" fill="#63B8FF"/>
<rect x="545.94" y="424" width="7.9" height="3" fill="#228B22"/>
<rect x="545.94" y="420.3" width="7.9" height="3.7" fill="#BF3EFF"/>
<rect x="545.94" y="342.4" width="7.9" height="77.9" fill="#EE2C2C"/>
<rect x="545.94" y="315.1" width="7.9" height="27.3" fill="#63B8FF"/>
<rect x="555.96" y="425" width="7.9" height="2" fill="#228B22"/>
<rect x="555.96" y="424" width="7.9" height="1" fill="#BF3EFF"/>
<rect x="555.96" y="363.1" width="7.9" height="60.9" fill="#EE2C2C"/>
<rect x="555.96" y="333.4" width="7.9" height="29.7" fill="#63B8FF"/>
<rect x="565.98" y="380.5" width="7.9" height="46.5" fill="#EE2C2C"/>
<rect x="565.98" y="362" width="7.9" height="18.5" fill="#63B8FF"/>
<rect x="576" y="419.1" width="7.9" height="7.9" fill="#BF3EFF"/>
<rect x="576" y="416.7" width="7.9" height="2.4" fill="#FF8C00"/>
<rect x="576" y="382.4" width="7.9" height="34.3" fill="#EE2C2C"/>
<rect x="576" y="372" width="7.9" height="10.4" fill="#63B8FF"/>
<rect x="586.02" y="394.9" width="7.9" height="32.1" fill="#EE2C2C"/>
<rect x="586.02" y="387" width="7.9" height="7.9" fill="#63B8FF"/>
<rect x="596.04" y="422.4" width="7.9" height="4.6" fill="#228B22"/>
<rect x="596.04" y="420.5" width="7.9" height="1.9" fill="#FFD700"/>
<rect x="596.04" y="383.3" width="7.9" height="37.2" fill="#EE2C2C"/>
<rect x="596.04" y="372.4" width="7.9" height="10.9" fill="#63B8FF"/>
<rect x="606.06" y="420.1" width="7.9" height="6.9" fill="#228B22"/>
<rect x="606.06" y="416.4" width="7.9" height="3.7" fill="#FFD700"/>
<rect x="606.06" y="391.9" width="7.9" height="24.5" fill="#EE2C2C"/>
<rect x="606.06" y="383.1" width="7.9" height="8.8" fill="#63B8FF"/>
<rect x="616.08" y="424.1" width="7.9" height="2.9" fill="#228B22"/>
<rect x="616.08" y="422.1" width="7.9" height="2" fill="#FFD700"/>
<rect x="616.08" y="394.2" width="7.9" height="27.9" fill="#EE2C2C"/>
<rect x="616.08" y="384.7" width="7.9" height="9.5" fill="#63B8FF"/>
<rect x="626.1" y="425.1" width="7.9" height="1.9" fill="#228B22"/>
<rect x="626.1" y="422" width="7.9" height="3.1" fill="#BF3EFF"/>
<rect x="626.1" y="418" width="7.9" height="4" fill="#FFD700"/>
<rect x="626.1" y="393.5" width="7.9" height="24.5" fill="#EE2C2C"/>
<rect x="626.1" y="389.9" width="7.9" height="3.6" fill="#63B8FF"/>
<rect x="636.12" y="422.9" width="7.9" height="4.1" fill="#228B22"/>
<rect x="636.12" y="422" width="7.9" height="0.9" fill="#FF8C00"/>
<rect x="636.12" y="399.8" width="7.9" height="22.2" fill="#EE2C2C"/>
<rect x="636.12" y="399.3" width="7.9" height="0.5" fill="#63B8FF"/>
<rect x="646.14" y="425.9" width="7.9" height="1.1" fill="#228B22"/>
<rect x="646.14" y="424.1" width="7.9" height="1.8" fill="#FFD700"/>
<rect x="646.14" y="423.6" width="7.9" height="0.5" fill="#FF8C00"/>
<rect x="646.14" y="408.3" width="7.9" height="15.3" fill="#EE2C2C"/>
<rect x="646.14" y="404.2" width="7.9" height="4.1" fill="#63B8FF"/>
<rect x="656.16" y="422.9" width="7.9" height="4.1" fill="#228B22"/>
<rect x="656.16" y="421.8" width="7.9" height="1.1" fill="#FF8C00"/>
<rect x="656.16" y="407.6" width="7.9" height="14.2" fill="#EE2C2C"/>
<rect x="656.16" y="403.2" width="7.9" height="4.4" fill="#63B8FF"/>
<rect x="666.18" y="415.9" width="7.9" height="11.1" fill="#EE2C2C"/>
<rect x="666.18" y="411" width="7.9" height="4.9" fill="#63B8FF"/>
<rect x="676.2" y="422.9" width="7.9" height="4.1" fill="#228B22"/>
<rect x="676.2" y="421" width="7.9" height="1.9" fill="#FFD700"/>
<rect x="676.2" y="415.4" width="7.9" height="5.6" fill="#EE2C2C"/>
<rect x="686.22" y="423.1" width="7.9" height="3.9" fill="#228B22"/>
<rect x="686.22" y="422.2" width="7.9" height="0.9" fill="#FFD700"/>
<rect x="686.22" y="403.9" width="7.9" height="18.3" fill="#EE2C2C"/>
<rect x="686.22" y="401.1" width="7.9" height="2.8" fill="#63B8FF"/>
<rect x="696.24" y="421.5" width="7.9" height="5.5" fill="#228B22"/>
<rect x="696.24" y="420.5" width="7.9" height="1" fill="#BF3EFF"/>
<rect x="696.24" y="419" width="7.9" height="1.5" fill="#FF8C00"/>
<rect x="696.24" y="416.9" width="7.9" height="2.1" fill="#EE2C2C"/>
<rect x="696.24" y="414.9" width="7.9" height="2" fill="#63B8FF"/>
<rect x="706.26" y="389.9" width="7.9" height="37.1" fill="#228B22"/>
<rect x="706.26" y="388.2" width="7.9" height="1.7" fill="#FFD700"/>
<rect x="706.26" y="385.8" width="7.9" height="2.4" fill="#EE2C2C"/>
<rect x="706.26" y="383.1" width="7.9" height="2.7" fill="#63B8FF"/>
<path d="M507,251.6H514.5V427H507M514.5,383.15h-7.5M514.5,339.3h-7.5M514.5,295.45h-7.5" class="ax"/>
<text x="562.08" y="457.8" text-anchor="middle" class="t">5</text>
<text x="612.18" y="457.8" text-anchor="middle" class="t">10</text>
<text x="662.28" y="457.8" text-anchor="middle" class="t">15</text>
<text x="712.38" y="457.8" text-anchor="middle" class="t">20</text>
<path d="M514.5,434.0H712.38M562.08,434.0v7.4M612.18,434.0v7.4M662.28,434.0v7.4M712.38,434.0v7.4" class="ax"/>
<rect x="751.7" y="426.5" width="7.9" height="0.5" fill="#228B22"/>
<rect x="751.7" y="423" width="7.9" height="3.5" fill="#BF3EFF"/>
<rect x="751.7" y="421.8" width="7.9" height="1.2" fill="#FFD700"/>
<rect x="751.7" y="420.9" width="7.9" height="0.9" fill="#FF8C00"/>
<rect x="751.7" y="334.8" width="7.9" height="86.1" fill="#EE2C2C"/>
<rect x="751.7" y="275.2" width="7.9" height="59.6" fill="#63B8FF"/>
<rect x="761.72" y="422.7" width="7.9" height="4.3" fill="#BF3EFF"/>
<rect x="761.72" y="421.8" width="7.9" height="0.9" fill="#FFD700"/>
<rect x="761.72" y="420.9" width="7.9" height="0.9" fill="#FF8C00"/>
<rect x="761.72" y="340.1" width="7.9" height="80.8" fill="#EE2C2C"/>
<rect x="761.72" y="304.2" width="7.9" height="35.9" fill="#63B8FF"/>
<rect x="771.74" y="417.6" width="7.9" height="9.4" fill="#BF3EFF"/>
<rect x="771.74" y="353.5" width="7.9" height="64.1" fill="#EE2C2C"/>
<rect x="771.74" y="308.8" width="7.9" height="44.7" fill="#63B8FF"/>
<rect x="781.76" y="424.5" width="7.9" height="2.5" fill="#228B22"/>
<rect x="781.76" y="422.1" width="7.9" height="2.4" fill="#FFD700"/>
<rect x="781.76" y="346.2" width="7.9" height="75.9" fill="#EE2C2C"/>
<rect x="781.76" y="311.5" width="7.9" height="34.7" fill="#63B8FF"/>
<rect x="791.78" y="360.3" width="7.9" height="66.7" fill="#EE2C2C"/>
<rect x="791.78" y="336.8" width="7.9" height="23.5" fill="#63B8FF"/>
<rect x="801.8" y="426.4" width="7.9" height="0.6" fill="#228B22"/>
<rect x="801.8" y="425.8" width="7.9" height="0.6" fill="#CAFF70"/>
<rect x="801.8" y="424.2" width="7.9" height="1.6" fill="#FFD700"/>
<rect x="801.8" y="371.7" width="7.9" height="52.5" fill="#EE2C2C"/>
<rect x="801.8" y="342.8" width="7.9" height="28.9" fill="#63B8FF"/>
<rect x="811.82" y="426.2" width="7.9" height="0.8" fill="#228B22"/>
<rect x="811.82" y="425.3" width="7.9" height="0.9" fill="#BF3EFF"/>
<rect x="811.82" y="421.4" width="7.9" height="3.9" fill="#FF8C00"/>
<rect x="811.82" y="379" width="7.9" height="42.4" fill="#EE2C2C"/>
<rect x="811.82" y="355.2" width="7.9" height="23.8" fill="#63B8FF"/>
<rect x="821.84" y="424.2" width="7.9" height="2.8" fill="#228B22"/>
<rect x="821.84" y="375.1" width="7.9" height="49.1" fill="#EE2C2C"/>
<rect x="821.84" y="357.2" width="7.9" height="17.9" fill="#63B8FF"/>
<rect x="831.86" y="424.2" width="7.9" height="2.8" fill="#228B22"/>
<rect x="831.86" y="421.2" width="7.9" height="3" fill="#FFD700"/>
<rect x="831.86" y="372.9" width="7.9" height="48.3" fill="#EE2C2C"/>
<rect x="831.86" y="349.2" width="7.9" height="23.7" fill="#63B8FF"/>
<rect x="841.88" y="424.2" width="7.9" height="2.8" fill="#228B22"/>
<rect x="841.88" y="421.2" width="7.9" height="3" fill="#FFD700"/>
<rect x="841.88" y="381" width="7.9" height="40.2" fill="#EE2C2C"/>
<rect x="841.88" y="360.1" width="7.9" height="20.9" fill="#63B8FF"/>
<rect x="851.9" y="422.7" width="7.9" height="4.3" fill="#228B22"/>
<rect x="851.9" y="421" width="7.9" height="1.7" fill="#FF8C00"/>
<rect x="851.9" y="379" width="7.9" height="42" fill="#EE2C2C"/>
<rect x="851.9" y="362" width="7.9" height="17" fill="#63B8FF"/>
<rect x="861.92" y="426" width="7.9" height="1" fill="#FFD700"/>
<rect x="861.92" y="425.2" width="7.9" height="0.8" fill="#FF8C00"/>
<rect x="861.92" y="386.1" width="7.9" height="39.1" fill="#EE2C2C"/>
<rect x="861.92" y="363.7" width="7.9" height="22.4" fill="#63B8FF"/>
<rect x="871.94" y="422.7" width="7.9" height="4.3" fill="#228B22"/>
<rect x="871.94" y="418.1" width="7.9" height="4.6" fill="#FFD700"/>
<rect x="871.94" y="387.5" width="7.9" height="30.6" fill="#EE2C2C"/>
<rect x="871.94" y="371.2" width="7.9" height="16.3" fill="#63B8FF"/>
<rect x="881.96" y="425.5" width="7.9" height="1.5" fill="#228B22"/>
<rect x="881.96" y="424.4" width="7.9" height="1.1" fill="#BF3EFF"/>
<rect x="881.96" y="421.8" width="7.9" height="2.6" fill="#FF8C00"/>
<rect x="881.96" y="394.3" width="7.9" height="27.5" fill="#EE2C2C"/>
<rect x="881.96" y="380.7" width="7.9" height="13.6" fill="#63B8FF"/>
<rect x="891.98" y="426.3" width="7.9" height="0.7" fill="#BF3EFF"/>
<rect x="891.98" y="423.9" width="7.9" height="2.4" fill="#FF8C00"/>
<rect x="891.98" y="395" width="7.9" height="28.9" fill="#EE2C2C"/>
<rect x="891.98" y="382.4" width="7.9" height="12.6" fill="#63B8FF"/>
<rect x="902" y="419.9" width="7.9" height="7.1" fill="#228B22"/>
<rect x="902" y="417.8" width="7.9" height="2.1" fill="#FFD700"/>
<rect x="902" y="382.1" width="7.9" height="35.7" fill="#EE2C2C"/>
<rect x="902" y="368" width="7.9" height="14.1" fill="#63B8FF"/>
<rect x="912.02" y="425.4" width="7.9" height="1.6" fill="#BF3EFF"/>
<rect x="912.02" y="422.7" width="7.9" height="2.7" fill="#FF8C00"/>
<rect x="912.02" y="398.5" width="7.9" height="24.2" fill="#EE2C2C"/>
<rect x="912.02" y="380.1" width="7.9" height="18.4" fill="#63B8FF"/>
<rect x="922.04" y="423.5" width="7.9" height="3.5" fill="#228B22"/>
<rect x="922.04" y="419.3" width="7.9" height="4.2" fill="#BF3EFF"/>
<rect x="922.04" y="400" width="7.9" height="19.3" fill="#EE2C2C"/>
<rect x="922.04" y="393.9" width="7.9" height="6.1" fill="#63B8FF"/>
<rect x="932.06" y="388.7" width="7.9" height="38.3" fill="#228B22"/>
<rect x="932.06" y="385.2" width="7.9" height="3.5" fill="#BF3EFF"/>
<rect x="932.06" y="384.6" width="7.9" height="0.6" fill="#FF8C00"/>
<rect x="932.06" y="363.7" width="7.9" height="20.9" fill="#EE2C2C"/>
<rect x="932.06" y="358.1" width="7.9" height="5.6" fill="#63B8FF"/>
<path d="M732.8,251.6H740.3V427H732.8M740.3,383.15h-7.5M740.3,339.3h-7.5M740.3,295.45h-7.5" class="ax"/>
<text x="787.88" y="457.8" text-anchor="middle" class="t">5</text>
<text x="837.98" y="457.8" text-anchor="middle" class="t">10</text>
<text x="888.08" y="457.8" text-anchor="middle" class="t">15</text>
<text x="938.18" y="457.8" text-anchor="middle" class="t">20</text>
<path d="M740.3,434.0H938.18M787.88,434.0v7.4M837.98,434.0v7.4M888.08,434.0v7.4M938.18,434.0v7.4" class="ax"/>
<text x="49.3" y="431.8" text-anchor="end" class="t">0</text>
<text x="49.3" y="387.95" text-anchor="end" class="t">100</text>
<text x="49.3" y="344.1" text-anchor="end" class="t">200</text>
<text x="49.3" y="300.25" text-anchor="end" class="t">300</text>
<text x="49.3" y="256.4" text-anchor="end" class="t">400</text>
<text transform="translate(13.2,338.4) rotate(-90)" text-anchor="middle" class="t">Information requests</text>
<text x="2" y="248.7" class="lab">b</text>
<text x="498.5" y="480.6" text-anchor="middle" class="t">Round</text>
<text x="158" y="505.7" class="t">Information requests (0=no, 1=yes)</text>
<text x="186.8" y="535.9" text-anchor="end" class="t">Decision previous round</text>
<text x="186.8" y="559.2" text-anchor="end" class="t">Payoff previous round</text>
<text x="186.8" y="582.6" text-anchor="end" class="t">Total payoff</text>
<rect x="197" y="518.1" width="15.2" height="72" fill="#228B22"/>
<text x="204.4" y="535.9" text-anchor="middle" class="t">0</text>
<text x="204.4" y="559.2" text-anchor="middle" class="t">0</text>
<text x="204.4" y="582.6" text-anchor="middle" class="t">1</text>
<rect x="226.7" y="518.1" width="15.2" height="72" fill="#BF3EFF"/>
<text x="234.1" y="535.9" text-anchor="middle" class="t">0</text>
<text x="234.1" y="559.2" text-anchor="middle" class="t">1</text>
<text x="234.1" y="582.6" text-anchor="middle" class="t">0</text>
<rect x="256.4" y="518.1" width="15.2" height="72" fill="#CAFF70"/>
<text x="263.8" y="535.9" text-anchor="middle" class="t">0</text>
<text x="263.8" y="559.2" text-anchor="middle" class="t">1</text>
<text x="263.8" y="582.6" text-anchor="middle" class="t">1</text>
<rect x="286.1" y="518.1" width="15.2" height="72" fill="#EE2C2C"/>
<text x="293.5" y="535.9" text-anchor="middle" class="t">1</text>
<text x="293.5" y="559.2" text-anchor="middle" class="t">0</text>
<text x="293.5" y="582.6" text-anchor="middle" class="t">0</text>
<rect x="315.8" y="518.1" width="15.2" height="72" fill="#FFD700"/>
<text x="323.2" y="535.9" text-anchor="middle" class="t">1</text>
<text x="323.2" y="559.2" text-anchor="middle" class="t">0</text>
<text x="323.2" y="582.6" text-anchor="middle" class="t">1</text>
<rect x="345.5" y="518.1" width="15.2" height="72" fill="#63B8FF"/>
<text x="352.9" y="535.9" text-anchor="middle" class="t">1</text>
<text x="352.9" y="559.2" text-anchor="middle" class="t">1</text>
<text x="352.9" y="582.6" text-anchor="middle" class="t">0</text>
<rect x="375.2" y="518.1" width="15.2" height="72" fill="#FF8C00"/>
<text x="382.6" y="535.9" text-anchor="middle" class="t">1</text>
<text x="382.6" y="559.2" text-anchor="middle" class="t">1</text>
<text x="382.6" y="582.6" text-anchor="middle" class="t">1</text>
</svg>
</body></html>
